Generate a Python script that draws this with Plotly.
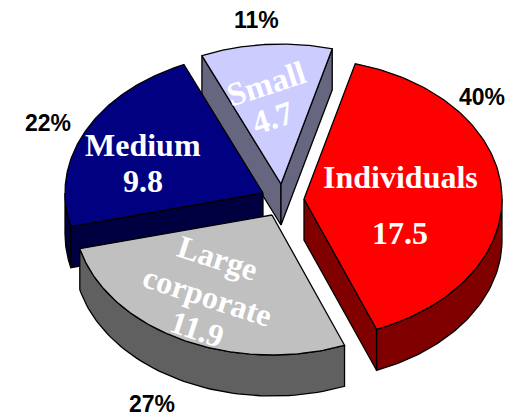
import numpy as np
import plotly.graph_objects as go

# Data
categories = ["Individuals", "Large corporate", "Medium", "Small"]
values = [17.5, 11.9, 9.8, 4.7]
percent_labels = ["40%", "27%", "22%", "11%"]

# Styles
top_colors = ["#ff0000", "#c0c0c0", "#000080", "#ccccff"]
side_colors = ["#800000", "#606060", "#000040", "#666680"]

# Projection of the tilted, exploded pie onto the pixel-sized axes
apex_x = [304, 272, 263, 281]
apex_y = [199, 215, 193, 184]
RX, RY, DEPTH = 198, 140, 41
START = 15.0
draw_order = [3, 2, 1, 0]

spans = 360 * np.array(values) / sum(values)
starts = START + np.concatenate(([0], np.cumsum(spans)[:-1]))

fig = go.Figure()


def polygon(xs, ys, color):
    fig.add_trace(go.Scatter(
        x=list(xs) + [xs[0]], y=list(ys) + [ys[0]], mode="lines", fill="toself",
        fillcolor=color, line=dict(color="black", width=1.3),
        hoverinfo="skip", showlegend=False))


def ellipse(i, a):
    t = np.radians(a)
    return apex_x[i] + RX * np.sin(t), apex_y[i] - RY * np.cos(t)


def outer_wall(i, a0, a1):
    a = np.linspace(a0, a1, 60)
    x, y = ellipse(i, a)
    polygon(np.r_[x, x[::-1]], np.r_[y, y[::-1] + DEPTH], side_colors[i])


def radial_wall(i, a):
    x, y = ellipse(i, a)
    ax, ay = apex_x[i], apex_y[i]
    polygon([ax, x, x, ax], [ay, y, y + DEPTH, ay + DEPTH], side_colors[i])


for i in draw_order:
    a0, a1 = starts[i], starts[i] + spans[i]
    # side faces seen from above and in front
    lo, hi = max(a0, 90), min(a1, 270)
    if lo < hi:
        outer_wall(i, lo, hi)
    if 180 < (a0 % 360) < 360:
        radial_wall(i, a0)
    if 0 < (a1 % 360) < 180:
        radial_wall(i, a1)
    # top face
    a = np.linspace(a0, a1, 120)
    x, y = ellipse(i, a)
    polygon(np.r_[apex_x[i], x], np.r_[apex_y[i], y], top_colors[i])


def serif(text, x, y, size=32, angle=0):
    fig.add_annotation(x=x, y=y, text=text, showarrow=False, textangle=angle,
                       xanchor="center", yanchor="middle",
                       font=dict(family="Liberation Serif", size=size, color="white"))


serif("<b>Individuals</b>", 400, 177)
serif(f"<b>{values[0]}</b>", 400, 233)
serif("<b>Medium</b>", 143, 145)
serif(f"<b>{values[2]}</b>", 143, 181)
serif("<b>Small</b>", 266, 84, 33, -18)
serif(f"<b>{values[3]}</b>", 272, 118, 33, -18)
serif("<b>Large</b>", 218, 258, 32, 18)
serif("<b>corporate</b>", 207, 296, 32, 18)
serif(f"<b>{values[1]}</b>", 197, 329, 32, 18)

for text, x, y in zip(percent_labels, [482, 152, 48, 256], [97, 404, 123, 20]):
    fig.add_annotation(x=x, y=y, text=f"<b>{text}</b>", showarrow=False,
                       xanchor="center", yanchor="middle", borderpad=0,
                       font=dict(family="Liberation Sans", size=23, color="black"))

fig.update_layout(
    width=526, height=417, margin=dict(l=0, r=0, t=0, b=0),
    paper_bgcolor="white", plot_bgcolor="white", showlegend=False,
    xaxis=dict(range=[0, 526], visible=False, fixedrange=True),
    yaxis=dict(range=[417, 0], visible=False, fixedrange=True),
)
fig.write_html("out.html", post_script="document.body.style.margin='0';",
               config={"displayModeBar": False})
